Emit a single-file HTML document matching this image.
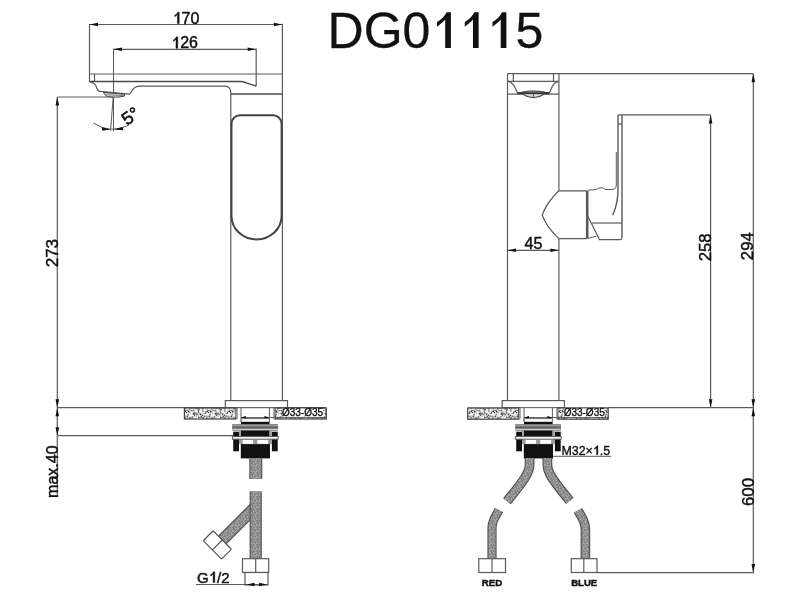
<!DOCTYPE html>
<html><head><meta charset="utf-8"><style>html,body{margin:0;padding:0;background:#fff;width:800px;height:600px;overflow:hidden}svg{display:block;will-change:transform;font-family:"Liberation Sans",sans-serif}</style></head><body><svg width="800" height="600" viewBox="0 0 800 600" font-family="Liberation Sans, sans-serif"><defs><pattern id="stip" width="22" height="12" patternUnits="userSpaceOnUse"><rect width="22" height="12" fill="#7a7a7a"/><rect x="7.1" y="1.8" width="1.8" height="0.9" fill="#ffffff"/><rect x="8.0" y="0.7" width="1.6" height="0.8" fill="#ffffff"/><rect x="9.2" y="2.9" width="1.7" height="0.9" fill="#ffffff"/><rect x="20.8" y="7.6" width="1.7" height="0.9" fill="#ffffff"/><rect x="1.1" y="2.7" width="1.7" height="1.0" fill="#ffffff"/><rect x="3.2" y="1.4" width="1.3" height="1.8" fill="#f4f4f4"/><rect x="2.3" y="6.9" width="1.1" height="0.9" fill="#ffffff"/><rect x="12.4" y="7.4" width="1.6" height="1.4" fill="#e8e8e8"/><rect x="10.2" y="11.1" width="1.4" height="1.1" fill="#f4f4f4"/><rect x="15.4" y="2.9" width="1.7" height="1.4" fill="#e8e8e8"/><rect x="16.0" y="3.5" width="2.4" height="0.9" fill="#ffffff"/><rect x="3.6" y="4.1" width="2.3" height="1.3" fill="#ffffff"/><rect x="16.8" y="6.9" width="2.2" height="1.2" fill="#e8e8e8"/><rect x="13.1" y="7.0" width="1.5" height="1.8" fill="#e8e8e8"/><rect x="10.4" y="8.0" width="0.9" height="1.6" fill="#ffffff"/><rect x="6.3" y="4.6" width="1.9" height="0.8" fill="#ffffff"/><rect x="7.8" y="7.3" width="1.6" height="1.1" fill="#e8e8e8"/><rect x="2.8" y="3.0" width="1.4" height="1.8" fill="#ffffff"/><rect x="3.7" y="4.8" width="1.2" height="1.0" fill="#ffffff"/><rect x="19.0" y="3.3" width="1.5" height="1.2" fill="#ffffff"/><rect x="21.1" y="1.8" width="1.1" height="1.1" fill="#f4f4f4"/><rect x="0.3" y="10.0" width="1.1" height="1.1" fill="#f4f4f4"/><rect x="9.2" y="4.4" width="1.7" height="1.9" fill="#ffffff"/><rect x="10.0" y="10.5" width="2.3" height="1.6" fill="#ffffff"/><rect x="8.8" y="4.7" width="1.6" height="1.3" fill="#f4f4f4"/><rect x="1.5" y="2.5" width="1.1" height="1.2" fill="#ffffff"/><rect x="2.3" y="6.8" width="1.7" height="1.9" fill="#ffffff"/><rect x="1.5" y="2.5" width="1.4" height="1.6" fill="#e8e8e8"/><rect x="13.3" y="5.7" width="1.0" height="1.4" fill="#ffffff"/><rect x="10.6" y="3.7" width="1.0" height="1.7" fill="#e8e8e8"/><rect x="10.5" y="8.3" width="1.6" height="1.0" fill="#e8e8e8"/><rect x="3.2" y="6.5" width="0.8" height="1.4" fill="#ffffff"/><rect x="15.3" y="3.1" width="1.4" height="1.0" fill="#f4f4f4"/><rect x="11.7" y="9.3" width="1.3" height="1.1" fill="#f4f4f4"/><rect x="17.7" y="9.8" width="2.0" height="1.1" fill="#ffffff"/><rect x="7.8" y="0.3" width="0.8" height="1.1" fill="#e8e8e8"/><rect x="4.3" y="7.3" width="1.4" height="1.8" fill="#e8e8e8"/><rect x="21.0" y="4.4" width="1.2" height="1.1" fill="#f4f4f4"/><rect x="7.4" y="5.8" width="2.4" height="1.5" fill="#ffffff"/><rect x="10.5" y="7.8" width="2.1" height="0.9" fill="#ffffff"/><rect x="20.0" y="9.4" width="2.0" height="1.4" fill="#f4f4f4"/><rect x="9.5" y="7.6" width="0.9" height="1.9" fill="#ffffff"/><rect x="10.2" y="8.9" width="0.9" height="1.0" fill="#f4f4f4"/><rect x="0.6" y="7.1" width="1.5" height="1.6" fill="#ffffff"/><rect x="14.5" y="4.2" width="1.7" height="1.0" fill="#ffffff"/><rect x="17.6" y="8.7" width="1.0" height="1.7" fill="#f4f4f4"/><rect x="9.5" y="10.5" width="2.1" height="1.1" fill="#e8e8e8"/><rect x="4.7" y="6.0" width="2.0" height="1.2" fill="#ffffff"/><rect x="18.4" y="0.7" width="2.0" height="1.9" fill="#ffffff"/><rect x="18.2" y="10.5" width="1.0" height="1.0" fill="#ffffff"/><rect x="19.2" y="9.3" width="1.8" height="1.7" fill="#f4f4f4"/><rect x="3.8" y="5.7" width="2.0" height="1.5" fill="#e8e8e8"/><rect x="15.0" y="6.4" width="1.6" height="1.7" fill="#ffffff"/><rect x="5.5" y="3.3" width="2.0" height="1.4" fill="#ffffff"/><rect x="16.7" y="10.9" width="1.5" height="1.5" fill="#f4f4f4"/><rect x="15.2" y="5.4" width="1.7" height="1.4" fill="#f4f4f4"/><rect x="15.4" y="10.5" width="2.3" height="1.1" fill="#f4f4f4"/><rect x="18.5" y="1.6" width="1.0" height="1.3" fill="#ffffff"/><rect x="14.8" y="5.1" width="1.1" height="1.2" fill="#ffffff"/><rect x="19.7" y="1.9" width="1.9" height="1.6" fill="#f4f4f4"/><rect x="5.6" y="1.6" width="1.5" height="1.7" fill="#ffffff"/><rect x="8.8" y="5.8" width="2.4" height="1.8" fill="#f4f4f4"/><rect x="15.5" y="11.9" width="1.4" height="1.3" fill="#e8e8e8"/><rect x="7.0" y="8.7" width="0.8" height="1.5" fill="#ffffff"/><rect x="15.5" y="4.6" width="1.6" height="1.2" fill="#ffffff"/><rect x="2.5" y="11.0" width="1.2" height="1.9" fill="#ffffff"/><rect x="5.8" y="0.5" width="2.0" height="1.1" fill="#f4f4f4"/><rect x="18.0" y="10.2" width="1.9" height="1.9" fill="#ffffff"/><rect x="3.3" y="11.0" width="1.7" height="1.6" fill="#ffffff"/><rect x="6.1" y="9.6" width="1.1" height="1.9" fill="#e8e8e8"/><rect x="20.6" y="7.6" width="2.1" height="0.9" fill="#f4f4f4"/><rect x="1.5" y="10.4" width="1.5" height="1.2" fill="#ffffff"/><rect x="20.4" y="3.2" width="1.0" height="1.4" fill="#f4f4f4"/><rect x="20.6" y="11.6" width="1.2" height="1.0" fill="#e8e8e8"/><rect x="13.8" y="6.4" width="1.1" height="1.3" fill="#f4f4f4"/><rect x="6.0" y="9.6" width="2.4" height="0.8" fill="#ffffff"/><rect x="16.1" y="6.6" width="1.1" height="1.4" fill="#ffffff"/><rect x="2.3" y="9.8" width="1.5" height="1.4" fill="#ffffff"/><rect x="21.3" y="3.7" width="1.1" height="1.1" fill="#f4f4f4"/><rect x="18.3" y="8.5" width="1.8" height="1.3" fill="#e8e8e8"/><rect x="21.6" y="10.0" width="0.8" height="1.6" fill="#e8e8e8"/><rect x="9.5" y="0.7" width="1.9" height="1.3" fill="#e8e8e8"/><rect x="13.2" y="8.3" width="0.9" height="1.0" fill="#e8e8e8"/><rect x="9.8" y="3.2" width="2.3" height="2.0" fill="#e8e8e8"/><rect x="5.4" y="11.6" width="1.3" height="1.2" fill="#ffffff"/><rect x="7.4" y="1.0" width="1.2" height="1.6" fill="#f4f4f4"/><rect x="11.1" y="0.1" width="1.2" height="0.9" fill="#ffffff"/><rect x="12.9" y="4.7" width="1.3" height="1.6" fill="#ffffff"/><rect x="12.9" y="6.4" width="2.0" height="1.6" fill="#ffffff"/><rect x="16.8" y="8.6" width="1.6" height="1.1" fill="#f4f4f4"/><rect x="1.0" y="10.0" width="2.2" height="1.6" fill="#f4f4f4"/><rect x="20.0" y="9.0" width="1.7" height="1.8" fill="#ffffff"/><rect x="18.2" y="7.0" width="2.2" height="1.6" fill="#f4f4f4"/><rect x="1.9" y="0.5" width="1.8" height="2.0" fill="#ffffff"/><rect x="18.4" y="6.7" width="1.8" height="1.6" fill="#f4f4f4"/><rect x="10.8" y="0.0" width="2.1" height="1.7" fill="#ffffff"/><rect x="14.5" y="0.8" width="2.0" height="1.1" fill="#ffffff"/><rect x="18.6" y="2.8" width="2.0" height="1.1" fill="#ffffff"/><rect x="10.9" y="4.6" width="1.6" height="1.6" fill="#ffffff"/><rect x="13.6" y="7.7" width="0.9" height="1.0" fill="#e8e8e8"/><rect x="14.3" y="8.3" width="1.8" height="1.0" fill="#ffffff"/><rect x="1.3" y="3.2" width="1.9" height="1.6" fill="#ffffff"/><rect x="6.4" y="6.2" width="1.5" height="1.4" fill="#ffffff"/><rect x="21.9" y="6.6" width="1.3" height="0.9" fill="#ffffff"/><rect x="0.4" y="5.5" width="2.1" height="2.0" fill="#ffffff"/><rect x="21.9" y="4.6" width="2.3" height="1.9" fill="#ffffff"/><rect x="12.8" y="1.7" width="1.6" height="1.9" fill="#f4f4f4"/><rect x="13.3" y="7.6" width="1.2" height="0.9" fill="#e8e8e8"/><rect x="5.1" y="10.8" width="1.6" height="0.8" fill="#ffffff"/><rect x="20.9" y="8.2" width="1.4" height="1.7" fill="#ffffff"/><rect x="7.6" y="3.8" width="2.1" height="0.8" fill="#e8e8e8"/><rect x="18.5" y="1.4" width="2.3" height="1.7" fill="#e8e8e8"/><rect x="5.6" y="0.8" width="1.4" height="1.8" fill="#ffffff"/><rect x="7.9" y="5.1" width="1.2" height="0.9" fill="#ffffff"/><rect x="1.1" y="7.9" width="1.8" height="1.0" fill="#e8e8e8"/><rect x="9.6" y="3.8" width="2.0" height="1.7" fill="#ffffff"/><rect x="19.5" y="9.7" width="1.8" height="1.9" fill="#f4f4f4"/><rect x="15.8" y="0.6" width="2.0" height="1.3" fill="#f4f4f4"/><rect x="14.2" y="3.4" width="0.9" height="1.9" fill="#f4f4f4"/><rect x="3.8" y="5.0" width="1.3" height="1.1" fill="#e8e8e8"/><rect x="8.9" y="2.9" width="1.2" height="1.2" fill="#333"/><rect x="10.6" y="8.0" width="1.2" height="1.2" fill="#333"/><rect x="2.6" y="7.7" width="1.2" height="1.2" fill="#333"/><rect x="1.7" y="6.0" width="1.2" height="1.2" fill="#333"/><rect x="17.9" y="6.6" width="1.2" height="1.2" fill="#333"/><rect x="10.0" y="4.0" width="1.2" height="1.2" fill="#333"/><rect x="16.7" y="5.1" width="1.2" height="1.2" fill="#333"/><rect x="12.1" y="2.9" width="1.2" height="1.2" fill="#333"/><rect x="3.8" y="6.7" width="1.2" height="1.2" fill="#333"/><rect x="7.0" y="4.4" width="1.2" height="1.2" fill="#333"/></pattern><pattern id="braid" width="6" height="6" patternUnits="userSpaceOnUse"><rect width="6" height="6" fill="#828282"/><circle cx="1.4" cy="3.3" r="0.7" fill="#aaaaaa"/><circle cx="2.2" cy="3.6" r="0.7" fill="#aaaaaa"/><circle cx="3.8" cy="0.4" r="0.7" fill="#aaaaaa"/><circle cx="0.1" cy="5.0" r="0.7" fill="#aaaaaa"/><circle cx="1.6" cy="1.4" r="0.7" fill="#aaaaaa"/><circle cx="6.0" cy="2.8" r="0.7" fill="#aaaaaa"/><circle cx="5.0" cy="2.9" r="0.7" fill="#aaaaaa"/><circle cx="3.8" cy="0.9" r="0.7" fill="#aaaaaa"/><circle cx="3.8" cy="5.2" r="0.7" fill="#aaaaaa"/><circle cx="3.1" cy="4.4" r="0.7" fill="#aaaaaa"/><circle cx="4.0" cy="0.4" r="0.7" fill="#aaaaaa"/><circle cx="4.5" cy="3.5" r="0.7" fill="#aaaaaa"/><circle cx="1.8" cy="0.2" r="0.7" fill="#aaaaaa"/><circle cx="5.2" cy="2.8" r="0.7" fill="#aaaaaa"/></pattern></defs><rect width="800" height="600" fill="#fff"/><text x="327.6" y="48.1" font-size="50" fill="#111" stroke="#111" stroke-width="0.3">DG0</text><path transform="translate(0.0,0)" d="M446.6,12.3 H450.9 V48.1 H445.2 V19.6 C443,22.3 440,24.8 437,26.7 V21.9 C441.5,19.6 444.6,16.3 446.6,12.3 Z" fill="#111"/><path transform="translate(27.75,0)" d="M446.6,12.3 H450.9 V48.1 H445.2 V19.6 C443,22.3 440,24.8 437,26.7 V21.9 C441.5,19.6 444.6,16.3 446.6,12.3 Z" fill="#111"/><path transform="translate(55.5,0)" d="M446.6,12.3 H450.9 V48.1 H445.2 V19.6 C443,22.3 440,24.8 437,26.7 V21.9 C441.5,19.6 444.6,16.3 446.6,12.3 Z" fill="#111"/><text x="515.5" y="48.1" font-size="50" fill="#111" stroke="#111" stroke-width="0.3">5</text><line x1="89.5" y1="24.5" x2="282.4" y2="24.5" stroke="#5a5a5a" stroke-width="1.2"/><polygon points="89.50,24.50 98.00,22.70 98.00,26.30" fill="#111"/><polygon points="282.40,24.50 273.90,22.70 273.90,26.30" fill="#111"/><g transform="translate(186,23.6) rotate(0)"><path d="M0.323,-0.716 H0.41 V0 H0.296 V-0.57 C0.252,-0.517 0.192,-0.467 0.132,-0.428 V-0.524 C0.222,-0.57 0.284,-0.636 0.323,-0.716 Z" transform="translate(-13.35,0) scale(16)" fill="#111" stroke="#111" stroke-width="0.0281"/><text x="-4.45" y="0" font-size="16" fill="#111" stroke="#111" stroke-width="0.45">70</text></g><line x1="113.5" y1="49.3" x2="256.2" y2="49.3" stroke="#5a5a5a" stroke-width="1.2"/><polygon points="113.50,49.30 122.00,47.50 122.00,51.10" fill="#111"/><polygon points="256.20,49.30 247.70,47.50 247.70,51.10" fill="#111"/><g transform="translate(184.6,48.3) rotate(0)"><path d="M0.323,-0.716 H0.41 V0 H0.296 V-0.57 C0.252,-0.517 0.192,-0.467 0.132,-0.428 V-0.524 C0.222,-0.57 0.284,-0.636 0.323,-0.716 Z" transform="translate(-13.35,0) scale(16)" fill="#111" stroke="#111" stroke-width="0.0281"/><text x="-4.45" y="0" font-size="16" fill="#111" stroke="#111" stroke-width="0.45">26</text></g><line x1="89.5" y1="23.8" x2="89.5" y2="82" stroke="#5a5a5a" stroke-width="1.2"/><line x1="113.5" y1="48.6" x2="113.5" y2="131.5" stroke="#5a5a5a" stroke-width="1.0"/><line x1="256.2" y1="48.6" x2="256.2" y2="86.3" stroke="#5a5a5a" stroke-width="1.2"/><line x1="282.4" y1="23.8" x2="282.4" y2="400.6" stroke="#5a5a5a" stroke-width="1.2"/><line x1="89.5" y1="74" x2="282.4" y2="74" stroke="#5a5a5a" stroke-width="1.2"/><line x1="94.5" y1="74" x2="94.5" y2="81" stroke="#5a5a5a" stroke-width="1.2"/><path d="M89.4,81.5 H240.5 C243,81.5 244.5,82.2 247,83.1 L256.2,86" stroke="#4a4a4a" stroke-width="1.5" fill="none" /><path d="M89.4,81.6 C92,82.2 95,83.5 96,86 C97,89.5 98,91.4 100,91.4 L129.5,94.2 C131,93 132,90 134,88.2 C135.5,86.7 137,86.1 140,86.1 H225 Q230.8,86.1 230.8,93 V400.6" stroke="#5a5a5a" stroke-width="1.2" fill="none" /><line x1="230.8" y1="93.9" x2="282.4" y2="93.9" stroke="#4a4a4a" stroke-width="1.5"/><path d="M103.4,92.4 L124.6,94.3 L124.3,96.2 Q119,97.6 110,97 Q106.5,96.6 105.6,95.4 Z" stroke="#444" stroke-width="1.0" fill="#e4e4e4" /><line x1="105.5" y1="94.7" x2="124" y2="95.6" stroke="#666" stroke-width="0.8"/><path d="M240,115.2 H273.1 A8.5,8.5 0 0 1 281.6,123.7 V216 A25.05,23.4 0 0 1 231.5,216 V123.7 A8.5,8.5 0 0 1 240,115.2 Z" stroke="#444" stroke-width="2.0" fill="none" /><line x1="113.2" y1="97" x2="110.6" y2="130.5" stroke="#5a5a5a" stroke-width="1.0"/><path d="M93.5,123 A32.5,32.5 0 0 0 129,125" stroke="#5a5a5a" stroke-width="1.0" fill="none" /><polygon points="110.3,129.6 101.6,127.2 102.4,130.8" fill="#111"/><polygon points="113.8,129.6 122.6,126.8 123.2,130.2" fill="#111"/><text x="0" y="0" font-size="18" fill="#111" stroke="#111" stroke-width="0.6" transform="translate(127,125.9) rotate(-35)">5°</text><line x1="57.3" y1="97" x2="113.2" y2="97" stroke="#5a5a5a" stroke-width="1.0"/><line x1="57.3" y1="97" x2="57.3" y2="496.5" stroke="#5a5a5a" stroke-width="1.2"/><polygon points="57.30,97.00 55.50,105.50 59.10,105.50" fill="#111"/><polygon points="57.30,407.70 55.50,399.20 59.10,399.20" fill="#111"/><polygon points="57.30,407.70 55.50,416.20 59.10,416.20" fill="#111"/><polygon points="57.30,435.70 55.50,427.20 59.10,427.20" fill="#111"/><text x="0" y="0" font-size="17" text-anchor="middle" fill="#111" stroke="#111" stroke-width="0.45" transform="translate(57.8,253.1) rotate(-90)">273</text><text x="0" y="0" font-size="16" text-anchor="middle" fill="#111" stroke="#111" stroke-width="0.45" transform="translate(57.6,471.7) rotate(-90)">max.40</text><line x1="57.3" y1="407.7" x2="326" y2="407.7" stroke="#5a5a5a" stroke-width="1.2"/><line x1="57.3" y1="435.7" x2="233" y2="435.7" stroke="#5a5a5a" stroke-width="1.2"/><rect x="225.3" y="400.6" width="62.2" height="7.1" fill="#fff" stroke="#5a5a5a" stroke-width="1.2" rx="0" /><line x1="507.5" y1="73.7" x2="753.3" y2="73.7" stroke="#5a5a5a" stroke-width="1.2"/><line x1="507.5" y1="73.7" x2="507.5" y2="400.6" stroke="#5a5a5a" stroke-width="1.2"/><line x1="558.9" y1="73.7" x2="558.9" y2="190.6" stroke="#5a5a5a" stroke-width="1.2"/><line x1="558.9" y1="238.7" x2="558.9" y2="400.6" stroke="#5a5a5a" stroke-width="1.2"/><line x1="513.3" y1="73.7" x2="513.3" y2="81.3" stroke="#5a5a5a" stroke-width="1.2"/><line x1="553.5" y1="73.7" x2="553.5" y2="81.3" stroke="#5a5a5a" stroke-width="1.2"/><line x1="507.5" y1="81.3" x2="558.9" y2="81.3" stroke="#5a5a5a" stroke-width="1.2"/><path d="M507.5,81.2 C511,81.8 513.5,84 515,87.5 C516,90 516.8,92 517.8,93" stroke="#5a5a5a" stroke-width="1.2" fill="none" /><path d="M558.9,81.3 C555.6,81.9 553.3,84 551.8,87.5 C550.8,90 550,92 549,93" stroke="#5a5a5a" stroke-width="1.2" fill="none" /><line x1="507.5" y1="94.2" x2="558.9" y2="94.2" stroke="#5a5a5a" stroke-width="1.2"/><path d="M517.5,93.2 Q533.4,88.6 549.3,93.2 Z" stroke="#333" stroke-width="1.0" fill="#9a9a9a" /><rect x="517.5" y="92.6" width="31.8" height="1.6" fill="#333"/><path d="M522.8,94.2 Q533.4,101.3 544,94.2" stroke="#444" stroke-width="1.1" fill="#d8d8d8" /><line x1="533.3" y1="94.2" x2="533.3" y2="97.4" stroke="#444" stroke-width="1.0"/><path d="M586.5,190.8 H558.8 Q546.5,203 542.2,215 Q546.5,227 558.8,238.6 H586.5" stroke="#5a5a5a" stroke-width="1.2" fill="none" /><line x1="587.2" y1="190.6" x2="587.2" y2="238.7" stroke="#5a5a5a" stroke-width="2.6"/><path d="M618,114.9 V190 C618,200 616.3,207 612.7,215.2" stroke="#5a5a5a" stroke-width="1.4" fill="none" /><line x1="622" y1="114.9" x2="622" y2="237.5" stroke="#5a5a5a" stroke-width="1.4"/><line x1="618" y1="114.9" x2="710.6" y2="114.9" stroke="#5a5a5a" stroke-width="1.2"/><line x1="618" y1="124" x2="622" y2="124" stroke="#5a5a5a" stroke-width="1.2"/><path d="M616.3,152 V185 Q616.3,189.5 612,189.5 H606 C604,189.5 604,187.5 601,187.8 C598,188 597,189.6 594,189.8 L588,190.2" stroke="#5a5a5a" stroke-width="1.0" fill="none" /><path d="M587.2,215 L599.5,239.6 H620 Q622,239.6 622,237.5" stroke="#5a5a5a" stroke-width="1.2" fill="none" /><line x1="592" y1="223" x2="622" y2="223" stroke="#5a5a5a" stroke-width="1.2"/><path d="M587.5,238.4 Q592,237.5 596.5,236" stroke="#5a5a5a" stroke-width="1.0" fill="none" /><line x1="507.5" y1="250.3" x2="558.9" y2="250.3" stroke="#5a5a5a" stroke-width="1.2"/><polygon points="507.50,250.30 516.00,248.50 516.00,252.10" fill="#111"/><polygon points="558.90,250.30 550.40,248.50 550.40,252.10" fill="#111"/><text x="533.5" y="249.4" font-size="16" text-anchor="middle" font-weight="normal" fill="#111" stroke="#111" stroke-width="0.45" >45</text><line x1="710.6" y1="114.9" x2="710.6" y2="407.7" stroke="#5a5a5a" stroke-width="1.2"/><polygon points="710.60,114.90 708.80,123.40 712.40,123.40" fill="#111"/><polygon points="710.60,407.70 708.80,399.20 712.40,399.20" fill="#111"/><line x1="753.3" y1="73.7" x2="753.3" y2="572.6" stroke="#5a5a5a" stroke-width="1.2"/><polygon points="753.30,73.70 751.50,82.20 755.10,82.20" fill="#111"/><polygon points="753.30,407.70 751.50,399.20 755.10,399.20" fill="#111"/><polygon points="753.30,407.70 751.50,416.20 755.10,416.20" fill="#111"/><polygon points="753.30,572.60 751.50,564.10 755.10,564.10" fill="#111"/><text x="0" y="0" font-size="16.8" text-anchor="middle" fill="#111" stroke="#111" stroke-width="0.45" transform="translate(711,247.3) rotate(-90)">258</text><text x="0" y="0" font-size="16.8" text-anchor="middle" fill="#111" stroke="#111" stroke-width="0.45" transform="translate(753.3,246.2) rotate(-90)">294</text><text x="0" y="0" font-size="16.8" text-anchor="middle" fill="#111" stroke="#111" stroke-width="0.45" transform="translate(753.6,492) rotate(-90)">600</text><line x1="608" y1="407.7" x2="754" y2="407.7" stroke="#5a5a5a" stroke-width="1.2"/><line x1="597" y1="572.6" x2="754" y2="572.6" stroke="#5a5a5a" stroke-width="1.2"/><rect x="502.2" y="400.6" width="62.2" height="7.1" fill="#fff" stroke="#5a5a5a" stroke-width="1.2" rx="0" /><rect x="184.4" y="407.9" width="51.6" height="11.1" fill="url(#stip)" stroke="#444" stroke-width="1.2" rx="0" /><rect x="275" y="407.9" width="51.3" height="11.1" fill="url(#stip)" stroke="#444" stroke-width="1.2" rx="0" /><rect x="467.7" y="407.9" width="51" height="11.3" fill="url(#stip)" stroke="#444" stroke-width="1.2" rx="0" /><rect x="557.7" y="407.9" width="50.5" height="11.3" fill="url(#stip)" stroke="#444" stroke-width="1.2" rx="0" /><rect x="236.5" y="408.5" width="38.0" height="10" fill="#fff"/><line x1="237" y1="408" x2="237" y2="419" stroke="#5a5a5a" stroke-width="1.0"/><line x1="241" y1="408" x2="241" y2="422" stroke="#5a5a5a" stroke-width="1.0"/><line x1="269.4" y1="408" x2="269.4" y2="422" stroke="#5a5a5a" stroke-width="1.0"/><line x1="274" y1="408" x2="274" y2="419" stroke="#5a5a5a" stroke-width="1.0"/><line x1="241" y1="417.6" x2="326" y2="417.6" stroke="#5a5a5a" stroke-width="1.0"/><polygon points="241.00,417.50 246.00,416.00 246.00,419.00" fill="#111"/><polygon points="269.40,417.50 264.40,416.00 264.40,419.00" fill="#111"/><rect x="241.2" y="418.6" width="28.2" height="3.6" fill="#fff" stroke="#666" stroke-width="1.0" rx="1" /><rect x="241" y="422" width="28.6" height="2.4" fill="#111"/><rect x="232.2" y="424.2" width="45.8" height="3.1" fill="#707070"/><rect x="232.2" y="425.4" width="45.8" height="0.8" fill="#b0b0b0"/><rect x="232.2" y="427.3" width="45.8" height="1.1" fill="#2a2a2a"/><rect x="232.2" y="428.4" width="45.8" height="2.3" fill="#707070"/><rect x="232.2" y="429.2" width="45.8" height="0.8" fill="#e0e0e0"/><rect x="241" y="430.6" width="28.6" height="5.8" fill="#111"/><rect x="233.2" y="431.7" width="5.8" height="19.6" fill="#111"/><rect x="271.9" y="431.7" width="5.8" height="19.6" fill="#111"/><rect x="239" y="430.6" width="2" height="13.5" fill="#a0a0a0"/><rect x="269.6" y="430.6" width="2.3" height="13.5" fill="#a0a0a0"/><rect x="232.4" y="436.6" width="45.8" height="2.6" fill="#fff" stroke="#555" stroke-width="1" rx="0" /><rect x="239.5" y="439.8" width="32" height="4.4" fill="#9a9a9a"/><rect x="242.6" y="440" width="10.5" height="3.8" fill="#fff"/><rect x="257.3" y="440" width="10.8" height="3.8" fill="#fff"/><rect x="240.8" y="444.1" width="29.2" height="14.3" fill="#111"/><rect x="519.5" y="408.5" width="38.0" height="10" fill="#fff"/><line x1="520" y1="408" x2="520" y2="419" stroke="#5a5a5a" stroke-width="1.0"/><line x1="524" y1="408" x2="524" y2="422" stroke="#5a5a5a" stroke-width="1.0"/><line x1="552.4" y1="408" x2="552.4" y2="422" stroke="#5a5a5a" stroke-width="1.0"/><line x1="557" y1="408" x2="557" y2="419" stroke="#5a5a5a" stroke-width="1.0"/><line x1="524" y1="417.6" x2="609" y2="417.6" stroke="#5a5a5a" stroke-width="1.0"/><polygon points="524.00,417.50 529.00,416.00 529.00,419.00" fill="#111"/><polygon points="552.40,417.50 547.40,416.00 547.40,419.00" fill="#111"/><rect x="524.2" y="418.6" width="28.2" height="3.6" fill="#fff" stroke="#666" stroke-width="1.0" rx="1" /><rect x="524" y="422" width="28.6" height="2.4" fill="#111"/><rect x="515.2" y="424.2" width="45.8" height="3.1" fill="#707070"/><rect x="515.2" y="425.4" width="45.8" height="0.8" fill="#b0b0b0"/><rect x="515.2" y="427.3" width="45.8" height="1.1" fill="#2a2a2a"/><rect x="515.2" y="428.4" width="45.8" height="2.3" fill="#707070"/><rect x="515.2" y="429.2" width="45.8" height="0.8" fill="#e0e0e0"/><rect x="524" y="430.6" width="28.6" height="5.8" fill="#111"/><rect x="516.2" y="431.7" width="5.8" height="19.6" fill="#111"/><rect x="554.9" y="431.7" width="5.8" height="19.6" fill="#111"/><rect x="522" y="430.6" width="2" height="13.5" fill="#a0a0a0"/><rect x="552.6" y="430.6" width="2.3" height="13.5" fill="#a0a0a0"/><rect x="515.4" y="436.6" width="45.8" height="2.6" fill="#fff" stroke="#555" stroke-width="1" rx="0" /><rect x="522.5" y="439.8" width="32" height="4.4" fill="#9a9a9a"/><rect x="525.6" y="440" width="10.5" height="3.8" fill="#fff"/><rect x="540.3" y="440" width="10.8" height="3.8" fill="#fff"/><rect x="523.8" y="444.1" width="29.2" height="14.3" fill="#111"/><path d="M255.8,458.5 V479" fill="none" stroke="#505050" stroke-width="13" stroke-linecap="butt"/><path d="M255.8,458.5 V479" fill="none" stroke="url(#braid)" stroke-width="10.8" stroke-linecap="butt"/><path d="M222.3,540 L256,506.3" fill="none" stroke="#505050" stroke-width="12" stroke-linecap="butt"/><path d="M222.3,540 L256,506.3" fill="none" stroke="url(#braid)" stroke-width="9.8" stroke-linecap="butt"/><g transform="translate(222.3,540) rotate(45)"><rect x="-13" y="0" width="26" height="14" fill="#fff" stroke="#555" stroke-width="1.2" rx="1"/><line x1="0" y1="0" x2="0" y2="14" stroke="#555" stroke-width="1.2"/></g><path d="M255.7,491.6 V558.7" fill="none" stroke="#505050" stroke-width="12.2" stroke-linecap="butt"/><path d="M255.7,491.6 V558.7" fill="none" stroke="url(#braid)" stroke-width="10.0" stroke-linecap="butt"/><rect x="242.5" y="558.7" width="26.2" height="13.8" fill="#fff" stroke="#5a5a5a" stroke-width="1.2" rx="0" /><line x1="255.7" y1="558.7" x2="255.7" y2="572.5" stroke="#5a5a5a" stroke-width="1.2"/><rect x="245" y="572.5" width="23" height="12.5" fill="#fff" stroke="#5a5a5a" stroke-width="1.2" rx="0" /><line x1="196" y1="584.5" x2="267" y2="584.5" stroke="#5a5a5a" stroke-width="1.0"/><polygon points="246.50,584.50 254.50,582.70 254.50,586.30" fill="#111"/><polygon points="267.00,584.50 259.00,582.70 259.00,586.30" fill="#111"/><g transform="translate(197,582.5) rotate(0)"><text x="0.00" y="0" font-size="15" fill="#111" stroke="#111" stroke-width="0.45">G</text><path d="M0.323,-0.716 H0.41 V0 H0.296 V-0.57 C0.252,-0.517 0.192,-0.467 0.132,-0.428 V-0.524 C0.222,-0.57 0.284,-0.636 0.323,-0.716 Z" transform="translate(11.67,0) scale(15)" fill="#111" stroke="#111" stroke-width="0.0300"/><text x="20.01" y="0" font-size="15" fill="#111" stroke="#111" stroke-width="0.45">/2</text></g><path d="M529.6,458 V465 C529.6,474 520,485 507,501.2" fill="none" stroke="#505050" stroke-width="9.8" stroke-linecap="butt"/><path d="M529.6,458 V465 C529.6,474 520,485 507,501.2" fill="none" stroke="url(#braid)" stroke-width="7.6000000000000005" stroke-linecap="butt"/><path d="M547.4,458 V465 C547.4,474 557,485 569.8,501" fill="none" stroke="#505050" stroke-width="9.8" stroke-linecap="butt"/><path d="M547.4,458 V465 C547.4,474 557,485 569.8,501" fill="none" stroke="url(#braid)" stroke-width="7.6000000000000005" stroke-linecap="butt"/><path d="M499,510.2 C496,516 492,520 492,528 V558.7" fill="none" stroke="#505050" stroke-width="9.2" stroke-linecap="butt"/><path d="M499,510.2 C496,516 492,520 492,528 V558.7" fill="none" stroke="url(#braid)" stroke-width="6.999999999999999" stroke-linecap="butt"/><path d="M577.9,510.5 C581,516 585.4,521 585.4,529 V558.7" fill="none" stroke="#505050" stroke-width="9.6" stroke-linecap="butt"/><path d="M577.9,510.5 C581,516 585.4,521 585.4,529 V558.7" fill="none" stroke="url(#braid)" stroke-width="7.3999999999999995" stroke-linecap="butt"/><rect x="478.8" y="558.7" width="26.7" height="13.8" fill="#fff" stroke="#5a5a5a" stroke-width="1.2" rx="0" /><line x1="492" y1="558.7" x2="492" y2="572.5" stroke="#5a5a5a" stroke-width="1.2"/><rect x="571.3" y="558.7" width="25.7" height="13.8" fill="#fff" stroke="#5a5a5a" stroke-width="1.2" rx="0" /><line x1="583.8" y1="558.7" x2="583.8" y2="572.5" stroke="#5a5a5a" stroke-width="1.2"/><text x="492" y="586.3" font-size="9.6" text-anchor="middle" font-weight="bold" fill="#111" stroke="#111" stroke-width="0.45" >RED</text><text x="584.2" y="586.3" font-size="9.6" text-anchor="middle" font-weight="bold" fill="#111" stroke="#111" stroke-width="0.45" >BLUE</text><rect x="282.5" y="408.6" width="40.5" height="8.2" fill="#fff"/><text x="302.5" y="415.9" font-size="10" text-anchor="middle" font-weight="normal" fill="#111" stroke="#111" stroke-width="0.35" >Ø33-Ø35</text><rect x="564" y="408.6" width="40.5" height="8.4" fill="#fff"/><text x="584.2" y="416.3" font-size="10" text-anchor="middle" font-weight="normal" fill="#111" stroke="#111" stroke-width="0.35" >Ø33-Ø35</text><g transform="translate(561.5,454.7) rotate(0)"><text x="0.00" y="0" font-size="12.4" fill="#111" stroke="#111" stroke-width="0.35">M32×</text><path d="M0.323,-0.716 H0.41 V0 H0.296 V-0.57 C0.252,-0.517 0.192,-0.467 0.132,-0.428 V-0.524 C0.222,-0.57 0.284,-0.636 0.323,-0.716 Z" transform="translate(31.36,0) scale(12.4)" fill="#111" stroke="#111" stroke-width="0.0282"/><text x="38.26" y="0" font-size="12.4" fill="#111" stroke="#111" stroke-width="0.35">.5</text></g><line x1="553" y1="456.3" x2="611" y2="456.3" stroke="#5a5a5a" stroke-width="1.0"/></svg></body></html>
